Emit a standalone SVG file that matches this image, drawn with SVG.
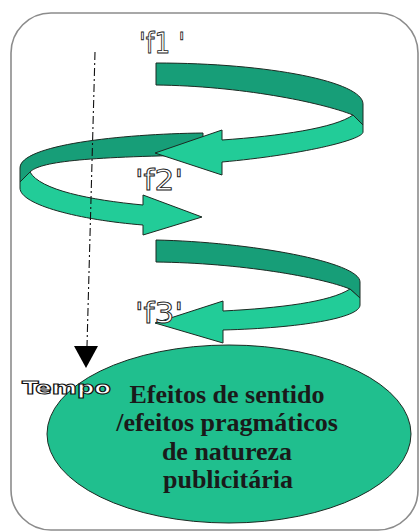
<svg xmlns="http://www.w3.org/2000/svg" width="420" height="532" viewBox="0 0 420 532">
<style>
.dark{fill:#179e78;stroke:#1b2a22;stroke-width:1;stroke-linejoin:round}
.light{fill:#22cc98;stroke:#1b2a22;stroke-width:1;stroke-linejoin:round}
.lbl{font-family:"DejaVu Sans",sans-serif;font-size:28px;fill:#fff;stroke:#222;stroke-width:0.9}
.main{font-family:"Liberation Serif","Times New Roman",serif;font-weight:bold;font-size:26px;fill:#1a1a1a;text-anchor:middle}
</style>
<rect x="11" y="13" width="407" height="517" rx="40" ry="40" fill="#fff" stroke="#8c8c8c" stroke-width="1.6"/>
<g id="f3">
<path class="dark" d="M156,240 C250,242 360,262 360,282 L360,298 L350,289 C320,277 240,263 156,262 Z"/>
<path class="light" d="M360,298 L360,305 C360,318 300,328 223,330 L223,343 L155,323 L223,301 L223,311 C280,308 330,302 350,289 Z"/>
</g>
<g id="f2">
<path class="dark" d="M203,133 C120,134 20,145 20,168 L20,182 L30,172 C40,162 80,157 203,155 Z"/>
<path class="light" d="M20,182 L20,188 C20,205 80,220 143,225 L143,235 L202,217 L143,195 L143,205 C90,200 40,190 30,172 Z"/>
</g>
<g id="f1">
<path class="dark" d="M156,63 C270,63 363,82 363,104 L363,125 L353,115 C320,102 240,86 156,85 Z"/>
<path class="light" d="M363,125 L363,132 C363,140 300,155 222,162 L222,175 L155,153 L222,130 L222,140 C280,136 335,128 353,115 Z"/>
</g>
<g id="result">
<ellipse cx="229" cy="434" rx="182" ry="89" fill="#20bf8e" stroke="#1b2a22" stroke-width="1"/>
<text class="main" x="227" y="403">Efeitos de sentido</text>
<text class="main" x="227" y="431">/efeitos pragmáticos</text>
<text class="main" x="227" y="460">de natureza</text>
<text class="main" x="228" y="488">publicitária</text>
</g>
<g id="connectors">
<line x1="95" y1="52" x2="87" y2="346" stroke="#111" stroke-width="1.1" stroke-dasharray="8,3,2,3"/>
<polygon points="74,346 98,346 86,368" fill="#000"/>
</g>
<g id="labels">
<text class="lbl" x="139" y="53" textLength="46" lengthAdjust="spacingAndGlyphs">'f1 '</text>
<text class="lbl" x="135" y="190" textLength="48" lengthAdjust="spacingAndGlyphs">'f2'</text>
<text class="lbl" x="135" y="323" textLength="48" lengthAdjust="spacingAndGlyphs">'f3'</text>
<text x="22" y="394" font-family="DejaVu Sans,sans-serif" font-weight="bold" font-size="17" fill="#fff" stroke="#111" stroke-width="1" textLength="89" lengthAdjust="spacingAndGlyphs">Tempo</text>
</g>
</svg>
